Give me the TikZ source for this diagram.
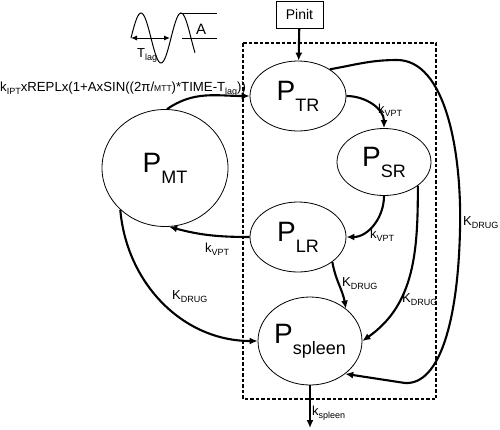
\documentclass[tikz,border=0pt]{standalone}
\usepackage{fontspec}
\setmainfont{Liberation Sans}
\usetikzlibrary{shapes.geometric,arrows.meta}
\newcommand{\Pcomp}[1]{\fontsize{28}{28}\selectfont P\raisebox{-11pt}{\fontsize{18}{18}\selectfont #1}}
\newcommand{\lowsub}[1]{\raisebox{-3pt}{\fontsize{9}{9}\selectfont #1}}
\tikzset{compartment/.style={
    ellipse, draw, line width=0.8pt, inner sep=0pt
  },
  flow/.style={-{Latex[length=8pt,width=7pt]}, line width=2.1pt},
  ratelabel/.style={anchor=base west, inner sep=0pt, font=\fontsize{13}{13}\selectfont},
  region/.style={line width=1.4pt, dash pattern=on 3.5pt off 2pt}
}

\begin{document}
\begin{tikzpicture}[x=1pt,y=1pt]
  \useasboundingbox (0,0) rectangle (500,-429);
  \draw[region] (243,-43) rectangle (436,-399);
  % compartments
  \node[draw, line width=0.9pt, minimum width=47pt, minimum height=27pt, inner sep=0pt, font=\fontsize{14}{14}\selectfont] (pinit) at (299.5,-14.5) {Pinit};
  \node[compartment, minimum width=96pt, minimum height=70pt] (TR) at (298,-96) {\Pcomp{TR}};
  \node[compartment, minimum width=94pt, minimum height=67pt] (SR) at (384,-162) {\Pcomp{SR}};
  \node[compartment, minimum width=126pt, minimum height=117pt] (MT) at (165,-168) {\Pcomp{MT}};
  \node[compartment, minimum width=96pt, minimum height=70pt] (LR) at (298,-237) {\Pcomp{LR}};
  \node[compartment, minimum width=104pt, minimum height=88pt] (spleen) at (310,-341) {\Pcomp{spleen}};
  \coordinate (sink) at (310,-428);
  % sine wave
  \draw[line width=1pt] plot[domain=131:195, samples=60, smooth] (\x, {-38+25*sin((\x-131)*9)});
  \draw[line width=1pt] (180,-13) -- (217,-13);
  \draw[line width=1pt] (182,-38) -- (217,-38);
  \draw[{Latex[length=6pt,width=5pt]}-{Latex[length=6pt,width=5pt]}, line width=1pt] (131,-38) -- (170,-38);
  \node[ratelabel] (tlag) at (137,-57) {T\lowsub{lag}};
  \node[font=\fontsize{15}{15}\selectfont, inner sep=0pt] (amp) at (201,-29) {A};
  \node[anchor=base west, inner sep=0pt, font=\fontsize{13.2}{13.2}\selectfont] (formula) at (0,-91)
    {k\lowsub{IPT}xREPLx(1+AxSIN((2π/{\fontsize{8.5}{8.5}\selectfont MTT})*TIME-T\lowsub{lag}))};
  % flows
  \draw[flow] (pinit) -- (TR);
  \draw[flow] (MT.88) to[out=35,in=180] (TR.west);
  \draw[flow] (TR.east) to[out=0,in=90] (SR.north);
  \draw[flow] (SR.south) to[out=-90,in=0] (LR.east);
  \draw[flow] (LR.west) to[out=180,in=-15] (MT.-86);
  \draw[flow] (MT.223) to[out=-85,in=180] (spleen.west);
  \draw[flow] (LR.-36) to[out=-80,in=100] (spleen.42);
  \draw[flow] (SR.-35) to[out=-90,in=35] (spleen.east);
  \draw[flow] (TR.40) to[out=10,in=180] (397,-60) .. controls (445,-60) and (462,-150) .. (460,-230)
    .. controls (458,-320) and (440,-385) .. (405,-383) -- (spleen.-43);
  \draw[flow] (spleen.south) -- (sink);
  % rates
  \node[ratelabel] (kvpt1) at (378,-113) {k\lowsub{VPT}};
  \node[ratelabel] (kvpt2) at (370,-238) {k\lowsub{VPT}};
  \node[ratelabel] (kvpt3) at (205,-252) {k\lowsub{VPT}};
  \node[ratelabel] (kdrug1) at (172,-299) {K\lowsub{DRUG}};
  \node[ratelabel] (kdrug2) at (342,-286) {K\lowsub{DRUG}};
  \node[ratelabel] (kdrug3) at (402,-302) {K\lowsub{DRUG}};
  \node[ratelabel] (kdrug4) at (463,-225) {K\lowsub{DRUG}};
  \node[ratelabel] (kspl) at (312,-415) {k\lowsub{spleen}};
\end{tikzpicture}
\end{document}
